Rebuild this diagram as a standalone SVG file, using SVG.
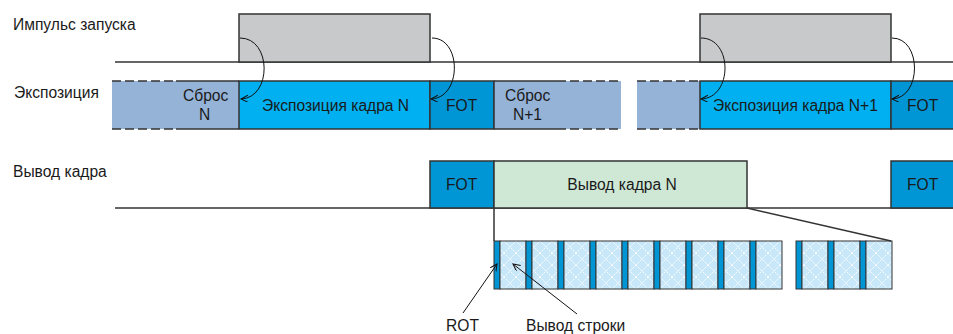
<svg xmlns="http://www.w3.org/2000/svg" width="953" height="334" viewBox="0 0 953 334">
<defs>
<style>
text{font-family:"Liberation Sans",Arial,sans-serif;font-size:15.6px;fill:#1a1a1a}
.ln{stroke:#333;stroke-width:1.5;fill:none}
.dash{stroke:#333;stroke-width:1.5;stroke-dasharray:9,4;fill:none}
.pulse{fill:#c8c9cb;stroke:#333;stroke-width:1.5}
.reset{fill:#95b3d7;stroke:none}
.exp{fill:#00b0f0;stroke:#333;stroke-width:1.5}
.fot{fill:#0096d6;stroke:#333;stroke-width:1.5}
.out{fill:#cfe8d6;stroke:#333;stroke-width:1.5}
.rot{fill:#0096d6;stroke:#333;stroke-width:1}
.cell{fill:url(#hatch);stroke:#333;stroke-width:1}
.arr{stroke:#111;stroke-width:1;fill:none;marker-end:url(#ah)}
</style>
<pattern id="hatch" width="12" height="12" patternUnits="userSpaceOnUse" x="0" y="241">
<rect width="12" height="12" fill="#c8e7f9"/>
<path d="M0,0 L12,12 M12,0 L0,12" stroke="#ffffff" stroke-width="1" stroke-dasharray="1.5,1"/>
</pattern>
<marker id="ah" markerWidth="9" markerHeight="9" refX="7" refY="3.5" orient="auto" markerUnits="userSpaceOnUse">
<path d="M0,0 L7,3.5 L0,7" fill="none" stroke="#111" stroke-width="1"/>
</marker>
</defs>

<g id="labels">
<text x="13" y="30">Импульс запуска</text>
<text x="14" y="98">Экспозиция</text>
<text x="13" y="177">Вывод кадра</text>
</g>

<g id="baselines">
<line class="ln" x1="115" y1="62" x2="953" y2="62"/>
<line class="ln" x1="115" y1="208" x2="953" y2="208"/>
</g>

<g id="pulse1"><rect class="pulse" x="239" y="14" width="191" height="48"/></g>
<g id="pulse2"><rect class="pulse" x="700" y="14" width="191" height="48"/></g>

<g id="resetN">
<rect class="reset" x="112" y="81" width="127" height="48"/>
<line class="dash" x1="112" y1="81" x2="176" y2="81"/>
<line class="dash" x1="112" y1="129" x2="176" y2="129"/>
<line class="ln" x1="176" y1="81" x2="239" y2="81"/>
<line class="ln" x1="176" y1="129" x2="239" y2="129"/>
<text x="183" y="101">Сброс</text>
<text x="199" y="120">N</text>
</g>

<g id="expN">
<rect class="exp" x="239" y="81" width="191" height="48"/>
<text x="262" y="111">Экспозиция кадра N</text>
</g>

<g id="fotExp1">
<rect class="fot" x="430" y="81" width="64" height="48"/>
<text x="446" y="111">FOT</text>
</g>

<g id="resetN1">
<rect class="reset" x="494" y="81" width="127" height="48"/>
<line class="ln" x1="494" y1="81" x2="494" y2="129"/>
<line class="ln" x1="494" y1="81" x2="557" y2="81"/>
<line class="ln" x1="494" y1="129" x2="557" y2="129"/>
<line class="dash" x1="557" y1="81" x2="621" y2="81"/>
<line class="dash" x1="557" y1="129" x2="621" y2="129"/>
<text x="505" y="101">Сброс</text>
<text x="513" y="120">N+1</text>
</g>

<g id="resetCont">
<rect class="reset" x="637" y="81" width="63" height="48"/>
<line class="dash" x1="637" y1="81" x2="700" y2="81"/>
<line class="dash" x1="637" y1="129" x2="700" y2="129"/>
</g>

<g id="expN1">
<rect class="exp" x="700" y="81" width="191" height="48"/>
<text x="713" y="111">Экспозиция кадра N+1</text>
</g>

<g id="fotExp2">
<rect class="fot" x="891" y="81" width="64" height="48"/>
<text x="907" y="111">FOT</text>
</g>

<g id="fotOut1">
<rect class="fot" x="430" y="161" width="64" height="47"/>
<text x="446" y="190">FOT</text>
</g>

<g id="outN">
<rect class="out" x="494" y="161" width="253" height="47"/>
<text x="622" y="190" text-anchor="middle">Вывод кадра N</text>
</g>

<g id="fotOut2">
<rect class="fot" x="891" y="161" width="64" height="47"/>
<text x="907" y="190">FOT</text>
</g>

<g id="rows">
<rect class="rot" x="494" y="241" width="6" height="48"/><rect class="cell" x="500" y="241" width="26" height="48"/>
<rect class="rot" x="526" y="241" width="6" height="48"/><rect class="cell" x="532" y="241" width="26" height="48"/>
<rect class="rot" x="558" y="241" width="6" height="48"/><rect class="cell" x="564" y="241" width="26" height="48"/>
<rect class="rot" x="590" y="241" width="6" height="48"/><rect class="cell" x="596" y="241" width="26" height="48"/>
<rect class="rot" x="622" y="241" width="6" height="48"/><rect class="cell" x="628" y="241" width="26" height="48"/>
<rect class="rot" x="654" y="241" width="6" height="48"/><rect class="cell" x="660" y="241" width="26" height="48"/>
<rect class="rot" x="686" y="241" width="6" height="48"/><rect class="cell" x="692" y="241" width="26" height="48"/>
<rect class="rot" x="718" y="241" width="6" height="48"/><rect class="cell" x="724" y="241" width="26" height="48"/>
<rect class="rot" x="750" y="241" width="6" height="48"/><rect class="cell" x="756" y="241" width="26" height="48"/>
<rect class="rot" x="796" y="241" width="6" height="48"/><rect class="cell" x="802" y="241" width="26" height="48"/>
<rect class="rot" x="828" y="241" width="6" height="48"/><rect class="cell" x="834" y="241" width="26" height="48"/>
<rect class="rot" x="860" y="241" width="6" height="48"/><rect class="cell" x="866" y="241" width="26" height="48"/>
</g>

<g id="rowLabels">
<text x="446" y="331">ROT</text>
<text x="526" y="331">Вывод строки</text>
</g>

<g id="connectors">
<path class="arr" d="M240,38 C272,38 272,98 241,99"/>
<path class="arr" d="M432,38 C462,38 462,98 431,99"/>
<path class="arr" d="M701,38 C733,38 733,98 701,99"/>
<path class="arr" d="M892,38 C922,38 922,98 892,99"/>
<line class="ln" x1="494" y1="208" x2="494" y2="241" stroke-width="1"/>
<line class="ln" x1="747" y1="208" x2="891" y2="241" stroke-width="1"/>
<line class="arr" x1="463" y1="313" x2="497" y2="264"/>
<line class="arr" x1="577" y1="314" x2="513" y2="264"/>
</g>
</svg>
